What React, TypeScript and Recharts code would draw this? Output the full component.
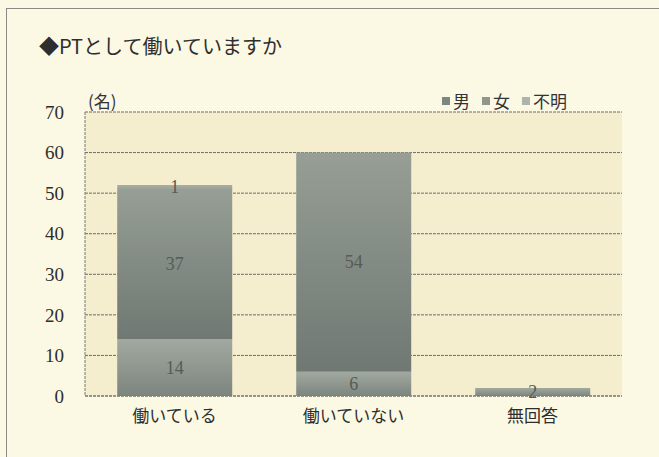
import React from 'react';
import { BarChart, Bar, XAxis, YAxis, CartesianGrid, LabelList } from 'recharts';

const categories = ['働いている', '働いていない', '無回答'];
const maleValues: (number | null)[] = [14, 6, 2];
const femaleValues: (number | null)[] = [37, 54, null];
const unknownValues: (number | null)[] = [1, 0, null];
const yTicks = [0, 10, 20, 30, 40, 50, 60, 70];
const seriesNames = ['男', '女', '不明'];

const data = categories.map((c, i) => ({
  name: c,
  male: maleValues[i],
  female: femaleValues[i],
  unknown: unknownValues[i],
}));

const legendColors = ['#7e8680', '#8f968e', '#afb4aa'];

const renderLabel = (props: any) => {
  const { x, y, width, height, value } = props;
  if (value === null || value === undefined) return null;
  return (
    <text
      x={Number(x) + Number(width) / 2}
      y={Number(y) + Number(height) / 2}
      textAnchor="middle"
      dominantBaseline="central"
      fontFamily="'Liberation Serif', serif"
      fontSize={18}
      fill="#565b56"
    >
      {value}
    </text>
  );
};

export default function App() {
  return (
    <div style={{ position: 'absolute', left: 0, top: 0, width: 659, height: 457, background: '#fbf8e3', overflow: 'hidden' }}>
      <div style={{ position: 'absolute', left: 6, top: 8, width: 700, height: 500, borderLeft: '1.5px solid #8a8a86', borderTop: '1.5px solid #8a8a86' }} />
      <div style={{ position: 'absolute', left: 39, top: 32, fontFamily: "'Noto Sans CJK JP', sans-serif", fontSize: 20, color: '#2e2e2e', lineHeight: '28px' }}>
        ◆PTとして働いていますか
      </div>
      <div style={{ position: 'absolute', left: 88, top: 89, fontFamily: "'Noto Sans CJK JP', sans-serif", fontSize: 17, color: '#333', lineHeight: '24px' }}>
        (名)
      </div>
      <div style={{ position: 'absolute', left: 442, top: 89, display: 'flex', alignItems: 'center', fontFamily: "'Noto Sans CJK JP', sans-serif", fontSize: 17, color: '#333', lineHeight: '24px' }}>
        {seriesNames.map((n, i) => (
          <div key={n} style={{ display: 'flex', alignItems: 'center', marginLeft: i === 0 ? 0 : 12 }}>
            <span style={{ display: 'inline-block', width: 8, height: 8, background: legendColors[i], marginRight: 3 }} />
            <span>{n}</span>
          </div>
        ))}
      </div>
      <div style={{ position: 'absolute', left: 0, top: 0 }}>
        <BarChart
          width={659}
          height={457}
          data={data}
          margin={{ top: 112, right: 37, bottom: 31, left: 40 }}
          barCategoryGap="18%"
        >
          <defs>
            <linearGradient id="gMale" x1="0" y1="0" x2="0" y2="1">
              <stop offset="0%" stopColor="#a2a9a0" />
              <stop offset="100%" stopColor="#7c857e" />
            </linearGradient>
            <linearGradient id="gFemale" x1="0" y1="0" x2="0" y2="1">
              <stop offset="0%" stopColor="#969e95" />
              <stop offset="100%" stopColor="#6f7872" />
            </linearGradient>
            <linearGradient id="gUnknown" x1="0" y1="0" x2="0" y2="1">
              <stop offset="0%" stopColor="#a9afa5" />
              <stop offset="100%" stopColor="#9aa198" />
            </linearGradient>
          </defs>
          <CartesianGrid
            vertical={false}
            stroke="#6d6d68"
            strokeDasharray="3 1"
            fill="#f4eecf"
            fillOpacity={1}
          />
          <XAxis
            dataKey="name"
            height={30}
            tickLine={false}
            tickSize={0}
            tickMargin={14}
            axisLine={{ stroke: '#7a7a75', strokeDasharray: '3 1' }}
            tick={{ fontFamily: "'Noto Sans CJK JP', sans-serif", fontSize: 17, fill: '#2e2e2e' }}
          />
          <YAxis
            domain={[0, 70]}
            ticks={yTicks}
            width={45}
            tickLine={false}
            tickSize={0}
            tickMargin={21}
            interval={0}
            axisLine={{ stroke: '#7a7a75', strokeDasharray: '3 1' }}
            tick={{ fontFamily: "'Liberation Serif', serif", fontSize: 19, fill: '#2e2e2e' }}
          />
          <Bar dataKey="male" name="男" stackId="s" fill="url(#gMale)" isAnimationActive={false}>
            <LabelList dataKey="male" content={renderLabel} />
          </Bar>
          <Bar dataKey="female" name="女" stackId="s" fill="url(#gFemale)" isAnimationActive={false}>
            <LabelList dataKey="female" content={renderLabel} />
          </Bar>
          <Bar dataKey="unknown" name="不明" stackId="s" fill="url(#gUnknown)" isAnimationActive={false}>
            <LabelList dataKey="unknown" content={renderLabel} />
          </Bar>
        </BarChart>
      </div>
    </div>
  );
}
